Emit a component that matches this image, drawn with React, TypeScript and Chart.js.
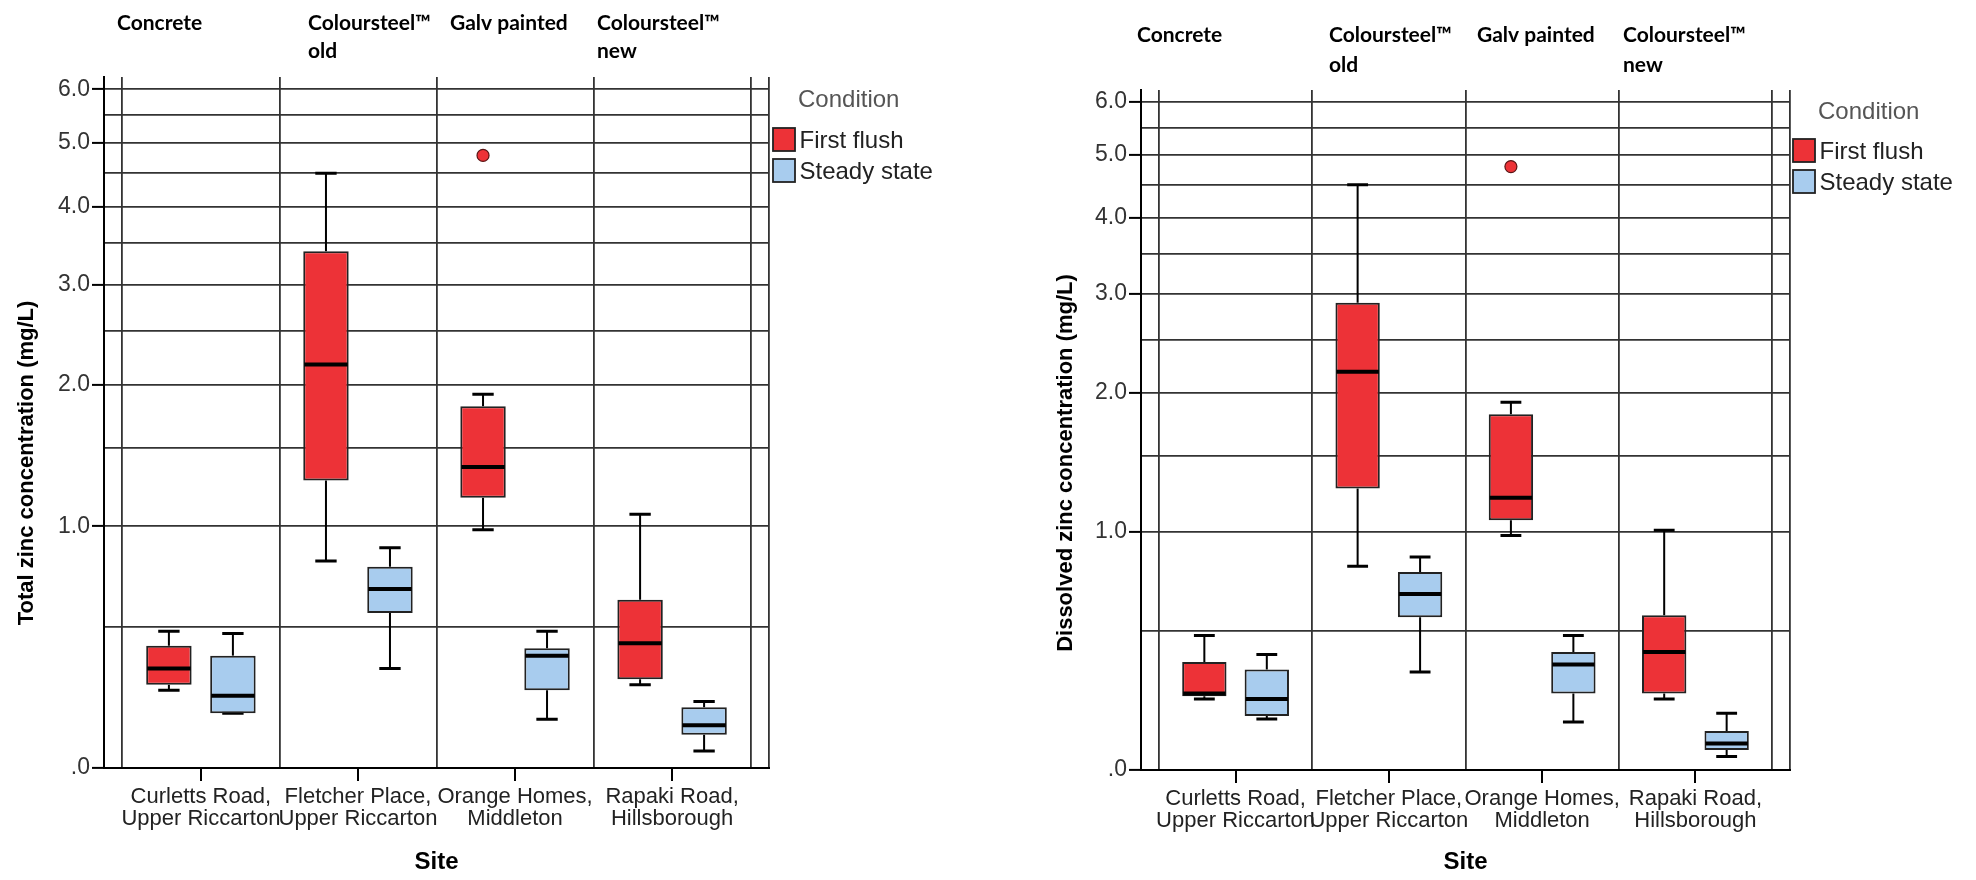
import React, { useEffect, useRef } from 'react';
import { Chart, registerables } from 'chart.js';

Chart.register(...registerables);

// ---------- Data ----------
const sites = [
  ['Curletts Road,', 'Upper Riccarton'],
  ['Fletcher Place,', 'Upper Riccarton'],
  ['Orange Homes,', 'Middleton'],
  ['Rapaki Road,', 'Hillsborough'],
];
const roofTypes = [['Concrete'], ['Coloursteel™', 'old'], ['Galv painted'], ['Coloursteel™', 'new']];
const conditions = ['First flush', 'Steady state'];
const siteIndex = [0, 1, 2, 3];
const yTickValues = [0, 0.5, 1, 1.5, 2, 2.5, 3, 3.5, 4, 4.5, 5, 5.5, 6];
const dividerValues = [-0.5, 0.5, 1.5, 2.5, 3.5];

// Total zinc (mg/L)
const totalFirstMin = [0.25, 0.81, 0.98, 0.27];
const totalFirstQ1 = [0.27, 1.28, 1.17, 0.29];
const totalFirstMedian = [0.33, 2.18, 1.37, 0.43];
const totalFirstQ3 = [0.42, 3.4, 1.82, 0.62];
const totalFirstMax = [0.48, 4.5, 1.92, 1.07];
const totalFirstOutlier = [null, null, 4.79, null];

const totalSteadyMin = [0.17, 0.33, 0.15, 0.05];
const totalSteadyQ1 = [0.17, 0.56, 0.25, 0.1];
const totalSteadyMedian = [0.23, 0.67, 0.38, 0.13];
const totalSteadyQ3 = [0.38, 0.78, 0.41, 0.19];
const totalSteadyMax = [0.47, 0.88, 0.48, 0.21];

// Dissolved zinc (mg/L)
const dissFirstMin = [0.23, 0.81, 0.98, 0.23];
const dissFirstQ1 = [0.24, 1.27, 1.07, 0.25];
const dissFirstMedian = [0.25, 2.19, 1.21, 0.41];
const dissFirstQ3 = [0.37, 2.9, 1.82, 0.57];
const dissFirstMax = [0.48, 4.5, 1.92, 1.01];
const dissFirstOutlier = [null, null, 4.8, null];

const dissSteadyMin = [0.16, 0.33, 0.15, 0.04];
const dissSteadyQ1 = [0.17, 0.56, 0.25, 0.06];
const dissSteadyMedian = [0.23, 0.67, 0.36, 0.08];
const dissSteadyQ3 = [0.34, 0.78, 0.41, 0.12];
const dissSteadyMax = [0.4, 0.86, 0.48, 0.18];

// ---------- Styling ----------
const RED = '#ED3237';
const BLUE = '#A8CCEE';
const GRID = '#333333';
const SANS = "'Liberation Sans', Arial, sans-serif";
const ROOF_FONT = "bold 21px Lato, 'Open Sans', sans-serif";
const CAT_PCT = 0.815;
const BAR_PCT = 0.71;
const X_MIN = -0.617;
const X_MAX = 3.617;
const Y_TOP_RAW = 6.25;

const tf = (v: number) => Math.log2(v + 1);

type Series = { min: number[]; q1: number[]; median: number[]; q3: number[]; max: number[] };

const boxExtras = {
  id: 'boxExtras',
  beforeDatasetsDraw(chart: any, _args: any, opts: any) {
    const ctx = chart.ctx;
    const y = chart.scales.y;
    ctx.save();
    ctx.strokeStyle = '#000';
    opts.series.forEach((s: Series, di: number) => {
      const meta = chart.getDatasetMeta(di);
      meta.data.forEach((el: any, i: number) => {
        const { x, width } = el.getProps(['x', 'width'], true);
        const pq3 = y.getPixelForValue(tf(s.q3[i]));
        const pq1 = y.getPixelForValue(tf(s.q1[i]));
        const pmax = y.getPixelForValue(tf(s.max[i]));
        const pmin = y.getPixelForValue(tf(s.min[i]));
        ctx.lineWidth = 2;
        ctx.beginPath();
        ctx.moveTo(x, pq3);
        ctx.lineTo(x, pmax);
        ctx.moveTo(x, pq1);
        ctx.lineTo(x, pmin);
        ctx.stroke();
        const cw = width * 0.47;
        ctx.lineWidth = 3;
        ctx.beginPath();
        ctx.moveTo(x - cw / 2, pmax);
        ctx.lineTo(x + cw / 2, pmax);
        ctx.moveTo(x - cw / 2, pmin);
        ctx.lineTo(x + cw / 2, pmin);
        ctx.stroke();
      });
    });
    ctx.restore();
  },
  afterDatasetsDraw(chart: any, _args: any, opts: any) {
    const ctx = chart.ctx;
    const y = chart.scales.y;
    ctx.save();
    ctx.strokeStyle = '#000';
    ctx.lineWidth = 4;
    opts.series.forEach((s: Series, di: number) => {
      const meta = chart.getDatasetMeta(di);
      meta.data.forEach((el: any, i: number) => {
        const { x, width } = el.getProps(['x', 'width'], true);
        const pm = y.getPixelForValue(tf(s.median[i]));
        ctx.beginPath();
        ctx.moveTo(x - width / 2 + 1, pm);
        ctx.lineTo(x + width / 2 - 1, pm);
        ctx.stroke();
      });
    });
    ctx.restore();
  },
  afterDraw(chart: any, _args: any, opts: any) {
    const ctx = chart.ctx;
    const area = chart.chartArea;
    ctx.save();
    // roof type labels
    ctx.font = ROOF_FONT;
    ctx.fillStyle = '#000';
    ctx.textAlign = 'left';
    ctx.textBaseline = 'middle';
    roofTypes.forEach((lines, i) => {
      lines.forEach((line, li) => {
        ctx.fillText(line, opts.roofX[i], opts.roofY + li * opts.roofGap);
      });
    });
    // y title
    ctx.save();
    ctx.translate(opts.yTitleX, opts.yTitleY);
    ctx.rotate(-Math.PI / 2);
    ctx.font = `bold 22px ${SANS}`;
    ctx.textAlign = 'center';
    ctx.fillStyle = '#000';
    ctx.fillText(opts.yTitle, 0, 0);
    ctx.restore();
    // x title
    ctx.font = `bold 24px ${SANS}`;
    ctx.textAlign = 'center';
    ctx.fillStyle = '#000';
    ctx.fillText('Site', (area.left + area.right) / 2, opts.siteY);
    // legend
    const bx = opts.legendX;
    ctx.textAlign = 'left';
    ctx.font = `24px ${SANS}`;
    ctx.fillStyle = '#555';
    ctx.fillText('Condition', bx + 25, opts.legendTitleY);
    [RED, BLUE].forEach((col, i) => {
      const by = opts.legendBoxY + i * 31;
      ctx.fillStyle = col;
      ctx.fillRect(bx, by, 22, 23);
      ctx.strokeStyle = '#222';
      ctx.lineWidth = 1.8;
      ctx.strokeRect(bx, by, 22, 23);
      ctx.fillStyle = '#222';
      ctx.fillText(conditions[i], bx + 26.5, by + 13);
    });
    ctx.restore();
  },
};

type ChartProps = {
  yTitle: string;
  first: Series;
  steady: Series;
  outliers: (number | null)[];
  padding: { left: number; right: number; top: number; bottom: number };
  text: any;
};

function BoxChart(props: ChartProps) {
  const ref = useRef<HTMLCanvasElement>(null);
  useEffect(() => {
    const { first, steady, outliers } = props;
    const outlierX = -CAT_PCT / 4;
    const chart = new Chart(ref.current as HTMLCanvasElement, {
      type: 'bar',
      data: {
        datasets: [
          {
            type: 'bar',
            label: conditions[0],
            data: siteIndex.map((i) => ({ x: i, y: [tf(first.q1[i]), tf(first.q3[i])] })) as any,
            backgroundColor: RED,
            borderColor: '#222',
            borderWidth: 2,
            borderSkipped: false,
            categoryPercentage: CAT_PCT,
            barPercentage: BAR_PCT,
            xAxisID: 'x',
            yAxisID: 'y',
          },
          {
            type: 'bar',
            label: conditions[1],
            data: siteIndex.map((i) => ({ x: i, y: [tf(steady.q1[i]), tf(steady.q3[i])] })) as any,
            backgroundColor: BLUE,
            borderColor: '#222',
            borderWidth: 2,
            borderSkipped: false,
            categoryPercentage: CAT_PCT,
            barPercentage: BAR_PCT,
            xAxisID: 'x',
            yAxisID: 'y',
          },
          {
            type: 'scatter',
            label: 'Outliers',
            data: siteIndex
              .filter((i) => outliers[i] !== null)
              .map((i) => ({ x: i + outlierX, y: tf(outliers[i] as number) })),
            backgroundColor: RED,
            borderColor: '#5a1414',
            borderWidth: 1.2,
            pointRadius: 6,
            xAxisID: 'x',
            yAxisID: 'y',
          } as any,
        ],
      },
      options: {
        responsive: false,
        animation: false,
        devicePixelRatio: 1,
        layout: { padding: props.padding },
        plugins: {
          legend: { display: false },
          tooltip: { enabled: false },
          boxExtras: {
            series: [first, steady],
            yTitle: props.yTitle,
            ...props.text,
          },
        } as any,
        scales: {
          x: {
            type: 'linear',
            position: 'bottom',
            offset: false,
            min: X_MIN,
            max: X_MAX,
            afterBuildTicks: (s: any) => {
              s.ticks = siteIndex.map((v) => ({ value: v }));
            },
            afterFit: (s: any) => {
              s.height = 80;
            },
            ticks: {
              autoSkip: false,
              maxRotation: 0,
              padding: 5,
              color: '#222',
              font: { family: SANS, size: 22, lineHeight: 1 },
              callback: (_v: any, i: number) => sites[i],
            },
            grid: { offset: false, drawOnChartArea: false, tickLength: 13, tickColor: '#000', lineWidth: 2 },
            border: { display: true, color: '#000', width: 2 },
          },
          x2: {
            type: 'linear',
            position: 'top',
            offset: false,
            min: X_MIN,
            max: X_MAX,
            afterBuildTicks: (s: any) => {
              s.ticks = [...dividerValues, X_MAX].map((v) => ({ value: v }));
            },
            afterFit: (s: any) => {
              s.height = 0;
            },
            ticks: { display: false },
            grid: { offset: false, drawTicks: false, color: GRID, lineWidth: 1.8 },
            border: { display: false },
          },
          y: {
            type: 'linear',
            min: 0,
            max: tf(Y_TOP_RAW),
            afterBuildTicks: (s: any) => {
              s.ticks = yTickValues.map((v) => ({ value: tf(v) }));
            },
            afterFit: (s: any) => {
              s.width = 60;
            },
            ticks: {
              autoSkip: false,
              padding: 2,
              color: '#333',
              font: { family: SANS, size: 23 },
              callback: (_v: any, i: number) => {
                const raw = yTickValues[i];
                if (!Number.isInteger(raw)) return '';
                return raw === 0 ? '.0' : raw.toFixed(1);
              },
            },
            grid: {
              color: GRID,
              lineWidth: 1.8,
              tickLength: 12,
              tickWidth: 2,
              tickColor: (c: any) => (Number.isInteger(yTickValues[c.index]) ? '#000' : 'rgba(0,0,0,0)'),
            },
            border: { display: true, color: '#000', width: 2 },
          },
        } as any,
      },
      plugins: [boxExtras as any],
    });
    return () => chart.destroy();
  }, []);
  return <canvas ref={ref} width={988} height={880} style={{ display: 'block', width: 988, height: 880 }} />;
}

export default function App() {
  return (
    <div style={{ position: 'absolute', left: 0, top: 0, width: 1976, height: 880, background: '#fff', display: 'flex' }}>
      <BoxChart
        yTitle="Total zinc concentration (mg/L)"
        first={{ min: totalFirstMin, q1: totalFirstQ1, median: totalFirstMedian, q3: totalFirstQ3, max: totalFirstMax }}
        steady={{ min: totalSteadyMin, q1: totalSteadyQ1, median: totalSteadyMedian, q3: totalSteadyQ3, max: totalSteadyMax }}
        outliers={totalFirstOutlier}
        padding={{ left: 44, right: 219, top: 77, bottom: 32 }}
        text={{
          roofX: [117, 308, 450, 597],
          roofY: 23,
          roofGap: 28,
          yTitleX: 27,
          yTitleY: 463,
          siteY: 862,
          legendX: 773,
          legendTitleY: 100,
          legendBoxY: 128,
        }}
      />
      <BoxChart
        yTitle="Dissolved zinc concentration (mg/L)"
        first={{ min: dissFirstMin, q1: dissFirstQ1, median: dissFirstMedian, q3: dissFirstQ3, max: dissFirstMax }}
        steady={{ min: dissSteadyMin, q1: dissSteadyQ1, median: dissSteadyMedian, q3: dissSteadyQ3, max: dissSteadyMax }}
        outliers={dissFirstOutlier}
        padding={{ left: 93, right: 186, top: 90, bottom: 30 }}
        text={{
          roofX: [149, 341, 489, 635],
          roofY: 35,
          roofGap: 30,
          yTitleX: 78,
          yTitleY: 463,
          siteY: 862,
          legendX: 805,
          legendTitleY: 112,
          legendBoxY: 139,
        }}
      />
    </div>
  );
}
